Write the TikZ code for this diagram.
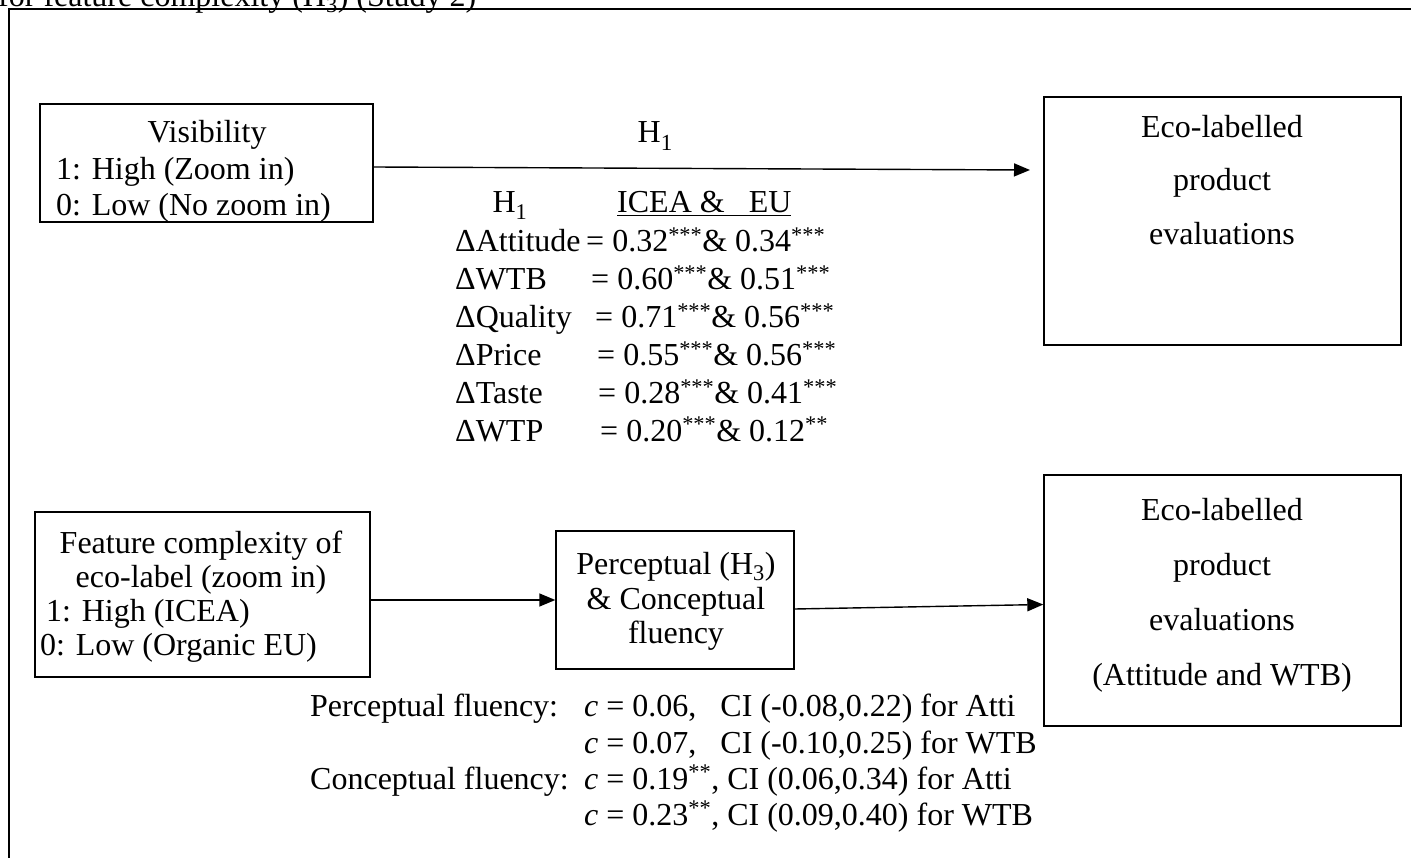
\documentclass[tikz,border=0pt]{standalone}
\usepackage{fontspec}
\setmainfont{Liberation Serif}
\usetikzlibrary{arrows.meta}
\begin{document}
\begin{tikzpicture}[x=1pt,y=-1pt,
  txt/.style={inner sep=0pt, font=\fontsize{32}{32}\selectfont},
  box/.style={draw, line width=1.4pt, inner sep=0pt},
  arr/.style={line width=1.4pt, -{Triangle[length=16pt,width=13pt]}},
  frameline/.style={line width=2.5pt}]
\clip (0,0) rectangle (1411,858);
\fill[white] (0,0) rectangle (1411,858);
% caption (cut off at the top)
\node[txt, anchor=base west] (cap) at (-2,6.5) {for feature complexity (H\textsubscript{3}) (Study 2)};
\draw[frameline] (1411,9) -- (9,9) -- (9,858);

% boxes
\node[box, minimum width=333pt, minimum height=118pt] (vis) at (206.5,163) {};
\node[box, minimum width=357pt, minimum height=248pt] (eco1) at (1222.5,221) {};
\node[box, minimum width=335pt, minimum height=165pt] (feat) at (202.5,594.5) {};
\node[box, minimum width=238pt, minimum height=138pt] (perc) at (675,600) {};
\node[box, minimum width=357pt, minimum height=251pt] (eco2) at (1222.5,600.5) {};

% box texts
\node[txt, anchor=base] (visT) at (207,143) {Visibility};
\node[txt, anchor=base west] (vis1) at (56,180) {1: High (Zoom in)};
\node[txt, anchor=base west] (vis0) at (56,216) {0: Low (No zoom in)};

\node[txt, anchor=base] (e1a) at (1222,138) {Eco-labelled};
\node[txt, anchor=base] (e1b) at (1222,191) {product};
\node[txt, anchor=base] (e1c) at (1222,245) {evaluations};

\node[txt, anchor=base] (f1) at (201,553) {Feature complexity of};
\node[txt, anchor=base] (f2) at (201,587) {eco-label (zoom in)};
\node[txt, anchor=base west] (f3) at (46,621) {1: High (ICEA)};
\node[txt, anchor=base west] (f4) at (40,655) {0: Low (Organic EU)};

\node[txt, anchor=base] (p1) at (676,574) {Perceptual (H\textsubscript{3})};
\node[txt, anchor=base] (p2) at (676,609) {\& Conceptual};
\node[txt, anchor=base] (p3) at (676,643) {fluency};

\node[txt, anchor=base] (e2a) at (1222,520) {Eco-labelled};
\node[txt, anchor=base] (e2b) at (1222,575) {product};
\node[txt, anchor=base] (e2c) at (1222,630) {evaluations};
\node[txt, anchor=base] (e2d) at (1222,685) {(Attitude and WTB)};

% connectors
\coordinate (a1end) at (1030,170);
\draw[arr] ([yshift=-4pt]vis.east) -- (a1end);
\draw[arr] (feat.east |- perc.west) -- (perc.west);
\draw[arr] ([yshift=-9pt]perc.east) -- ([yshift=-4pt]eco2.west);

% H1 label
\node[txt, anchor=base] (h1top) at (655,143) {H\raisebox{-8pt}{\fontsize{23}{23}\selectfont 1}};

% H1 table
\node[txt, anchor=base] (h1tab) at (510,213) {H\textsubscript{1}};
\node[txt, anchor=base west] (hdr) at (617,213) {\underline{ICEA \&\ \ \ EU}};
\node[txt, anchor=base west] (r1l) at (455,252) {ΔAttitude};
\node[txt, anchor=base west] (r1v) at (586,252) {= 0.32\textsuperscript{***}\& 0.34\textsuperscript{***}};
\node[txt, anchor=base west] (r2l) at (455,290) {ΔWTB};
\node[txt, anchor=base west] (r2v) at (591,290) {= 0.60\textsuperscript{***}\& 0.51\textsuperscript{***}};
\node[txt, anchor=base west] (r3l) at (455,328) {ΔQuality};
\node[txt, anchor=base west] (r3v) at (595,328) {= 0.71\textsuperscript{***}\& 0.56\textsuperscript{***}};
\node[txt, anchor=base west] (r4l) at (455,366) {ΔPrice};
\node[txt, anchor=base west] (r4v) at (597,366) {= 0.55\textsuperscript{***}\& 0.56\textsuperscript{***}};
\node[txt, anchor=base west] (r5l) at (455,404) {ΔTaste};
\node[txt, anchor=base west] (r5v) at (598,404) {= 0.28\textsuperscript{***}\& 0.41\textsuperscript{***}};
\node[txt, anchor=base west] (r6l) at (455,441) {ΔWTP};
\node[txt, anchor=base west] (r6v) at (600,441) {= 0.20\textsuperscript{***}\& 0.12\textsuperscript{**}};

% fluency results
\node[txt, anchor=base west] (pf) at (310,716) {Perceptual fluency:};
\node[txt, anchor=base west] (pf1) at (584,716) {\textit{c} = 0.06,\ \ \ CI (-0.08,0.22) for Atti};
\node[txt, anchor=base west] (pf2) at (584,753) {\textit{c} = 0.07,\ \ \ CI (-0.10,0.25) for WTB};
\node[txt, anchor=base west] (cf) at (310,789) {Conceptual fluency:};
\node[txt, anchor=base west] (cf1) at (584,789) {\textit{c} = 0.19\textsuperscript{**}, CI (0.06,0.34) for Atti};
\node[txt, anchor=base west] (cf2) at (584,825) {\textit{c} = 0.23\textsuperscript{**}, CI (0.09,0.40) for WTB};
\end{tikzpicture}
\end{document}
